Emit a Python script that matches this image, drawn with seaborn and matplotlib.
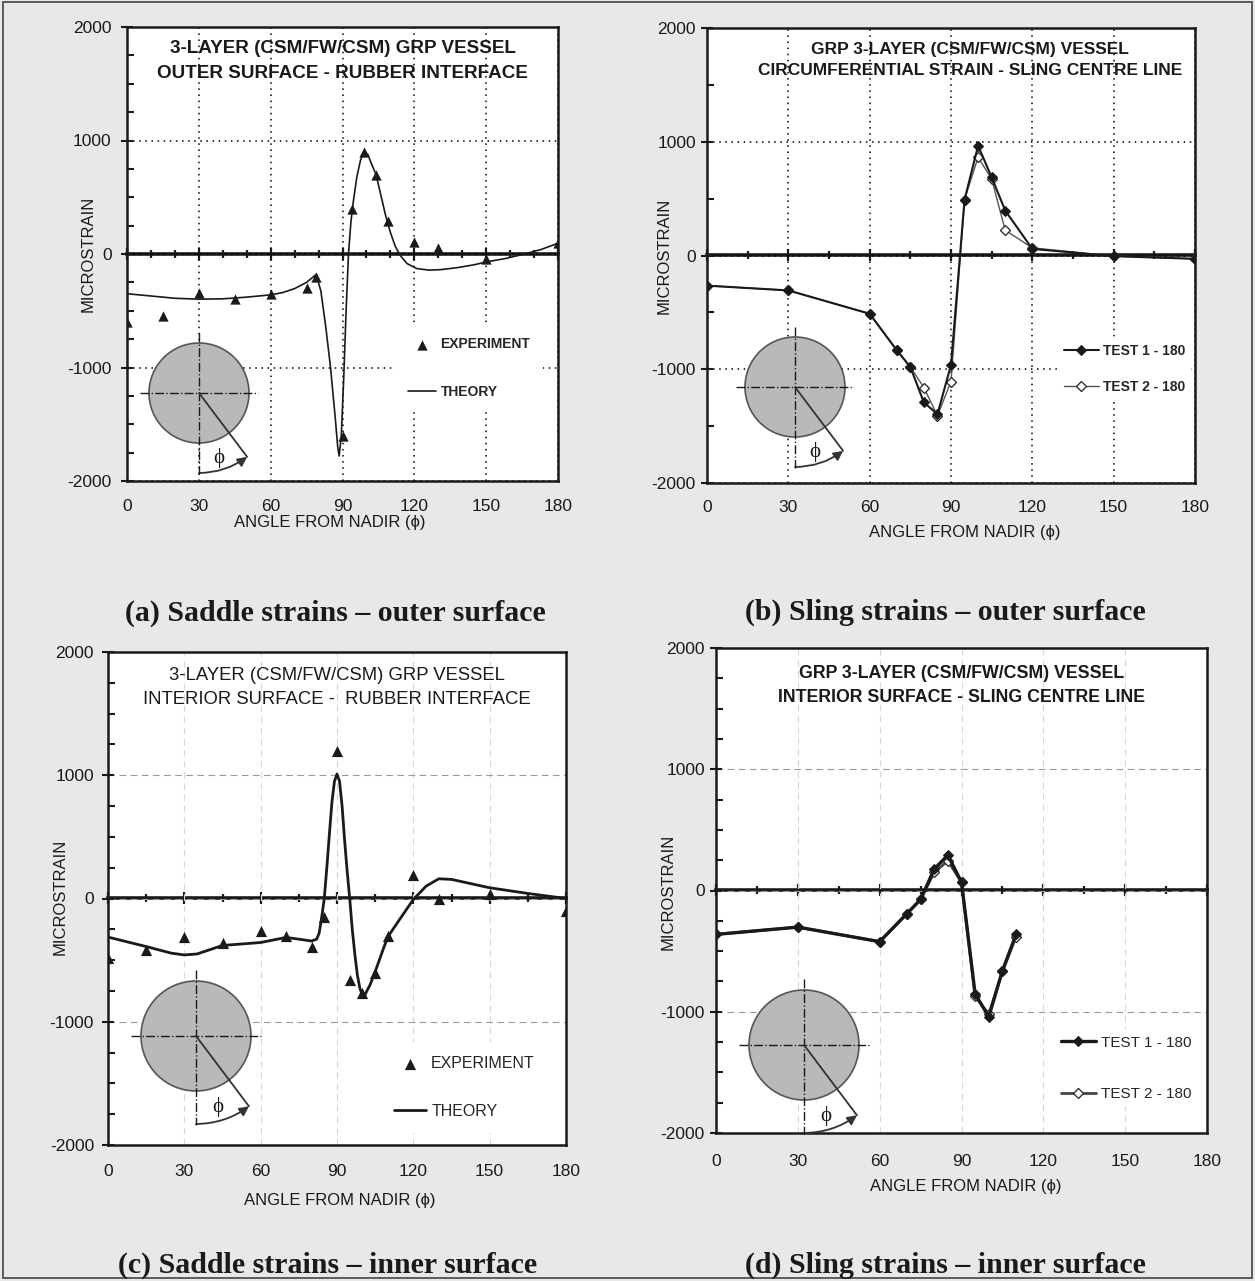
import matplotlib
matplotlib.use("Agg")
import matplotlib.pyplot as plt
import numpy as np
import pandas as pd
import seaborn as sns
from matplotlib.patches import Circle, FancyArrowPatch, Rectangle
from matplotlib.ticker import MultipleLocator

# ---- values ----
# (a) saddle strains - outer surface
a_exp_angle = [0, 15, 30, 45, 60, 75, 79, 90, 94, 99, 104, 109, 120, 130, 150, 180]
a_exp_strain = [-600, -550, -345, -400, -350, -300, -200, -1600, 400, 900, 700, 290, 110, 55, -45, 100]
a_th_angle = [0, 10, 20, 30, 40, 50, 60, 65, 70, 75, 79, 81, 83, 85, 87, 88, 88.6, 89.5, 90.5,
              91.5, 92.5, 93.5, 94.5, 96, 97.5, 99, 100.5, 102, 104, 106, 108, 110, 112, 114,
              117, 121, 126, 131, 138, 145, 150, 158, 166, 173, 180]
a_th_strain = [-350, -370, -390, -398, -395, -380, -360, -340, -305, -250, -180, -330, -640,
               -1000, -1450, -1700, -1780, -1600, -1100, -500, 0, 280, 460, 680, 825, 900, 880,
               800, 700, 520, 340, 190, 70, -10, -85, -128, -142, -138, -120, -95, -70, -40, 0,
               40, 95]

# (b) sling strains - outer surface
b_angle = [0, 30, 60, 70, 75, 80, 85, 90, 95, 100, 105, 110, 120, 150, 180]
b_test1 = [-265, -307, -512, -833, -980, -1292, -1395, -962, 491, 965, 687, 395, 58, -6, -29]
b_test2 = [-265, -307, -512, -833, -980, -1161, -1409, -1108, 491, 865, 672, 222, 67, -5, -30]

# (c) saddle strains - inner surface
c_exp_angle = [0, 15, 30, 45, 60, 70, 80, 85, 90, 95, 100, 105, 110, 120, 130, 150, 180]
c_exp_strain = [-480, -417, -316, -362, -262, -308, -390, -153, 1196, -662, -763, -608, -308,
                191, -8, 38, -103]
c_th_angle = [0, 15, 25, 30, 35, 45, 60, 70, 75, 80, 82, 83, 84, 85, 86, 87, 88, 89, 90, 91,
              92, 93, 94, 95, 96, 97, 98, 99, 100, 101, 103, 105, 108, 110, 115, 120, 125, 130,
              135, 150, 165, 180]
c_th_strain = [-313, -390, -444, -458, -450, -381, -357, -316, -330, -345, -330, -280, -150, 0,
               250, 520, 780, 950, 1010, 950, 750, 470, 220, 0, -250, -450, -620, -730, -785,
               -780, -700, -594, -420, -310, -158, -8, 100, 160, 155, 87, 41, 0]

# (d) sling strains - inner surface
d_angle = [0, 30, 60, 70, 75, 80, 85, 90, 95, 100, 105, 110]
d_test1 = [-362, -302, -422, -191, -74, 177, 292, 68, -853, -1041, -662, -362]
d_test2 = [-362, -302, -422, -191, -74, 150, 245, 68, -872, -1022, -668, -381]

INK = "#1a1a1a"

sns.set_theme(style="white")
plt.rcParams["font.family"] = ["Liberation Sans", "DejaVu Sans"]
plt.rcParams["axes.unicode_minus"] = False

W, H = 1255, 1281
fig = plt.figure(figsize=(W / 100, H / 100), dpi=100, facecolor="#e8e8e8")


def px_axes(left, top, right, bottom):
    return fig.add_axes([left / W, 1 - bottom / H, (right - left) / W, (bottom - top) / H])


def style_axes(ax, title, title_x, title_y, bold, tsize, minor_x, minor_y, dotted, xpad, ypad):
    ax.set_facecolor("white")
    ax.set_xlim(0, 180)
    ax.set_ylim(-2000, 2000)
    ax.set_xticks(range(0, 181, 30))
    ax.set_yticks(range(-2000, 2001, 1000))
    ax.yaxis.set_minor_locator(MultipleLocator(minor_y))
    ax.set_xlabel("")
    ax.set_ylabel("")
    ax.tick_params(axis="x", length=0, pad=xpad, labelsize=12.5, labelcolor=INK)
    ax.tick_params(axis="y", which="major", direction="inout", length=8, width=1.5,
                   left=True, pad=ypad, labelsize=12.5, labelcolor=INK, color=INK)
    ax.tick_params(axis="y", which="minor", direction="in", length=5, width=1.5,
                   left=True, color=INK)
    for s in ax.spines.values():
        s.set_color(INK)
        s.set_linewidth(1.8)
    if dotted:
        ax.grid(True, which="major", color="black", ls=(0, (1, 3)), lw=1.1)
    else:
        ax.grid(True, which="major", axis="y", color="#9a9a9a", ls=(0, (6, 4)), lw=0.8)
        ax.grid(True, which="major", axis="x", color="#d8d8d8", ls=(0, (6, 4)), lw=0.8)
    # x axis drawn through zero strain, with its tick marks
    zero = ax.secondary_xaxis(0.5)
    zero.set_xticks(range(0, 181, 30))
    zero.xaxis.set_minor_locator(MultipleLocator(minor_x))
    zero.tick_params(which="both", direction="inout", labeltop=False, labelbottom=False,
                     width=1.6, color=INK)
    zero.tick_params(which="major", length=8)
    zero.tick_params(which="minor", length=6)
    zero.spines["top"].set_linewidth(2.6)
    zero.spines["top"].set_color(INK)
    ax.text(title_x, title_y, title, transform=ax.transAxes, ha="center", va="center",
            fontsize=tsize, fontweight="bold" if bold else "normal",
            linespacing=1.55, color=INK)


def add_legend(ax, x, y, bold, size, spacing, handlelength, pad):
    handles, labels = ax.get_legend_handles_labels()
    ax.legend(handles, labels, loc="upper left", bbox_to_anchor=(x, y), frameon=True,
              fancybox=False, facecolor="white", edgecolor="none", framealpha=1,
              borderpad=pad, borderaxespad=0, labelspacing=spacing,
              handlelength=handlelength, handletextpad=0.3,
              prop={"size": size, "weight": "bold" if bold else "normal"})


def saddle_panel(ax, exp_x, exp_y, th_x, th_y, tri_size, line_w):
    exp = pd.DataFrame({"angle": exp_x, "strain": exp_y})
    th = pd.DataFrame({"angle": th_x, "strain": th_y})
    sns.scatterplot(data=exp, x="angle", y="strain", ax=ax, marker="^", s=tri_size,
                    color=INK, linewidth=0, zorder=4, label="EXPERIMENT")
    sns.lineplot(data=th, x="angle", y="strain", ax=ax, color=INK, lw=line_w,
                 errorbar=None, zorder=3, label="THEORY")


def sling_panel(ax, x, t1, t2, w1, w2, c2):
    df = pd.DataFrame({"angle": x, "t1": t1, "t2": t2})
    sns.lineplot(data=df, x="angle", y="t1", ax=ax, color=INK, lw=w1, marker="D",
                 markersize=5, markerfacecolor=INK, markeredgecolor=INK,
                 errorbar=None, zorder=4, label="TEST 1 - 180")
    sns.lineplot(data=df, x="angle", y="t2", ax=ax, color=c2, lw=w2, marker="D",
                 markersize=5, markerfacecolor="white", markeredgecolor="#333333",
                 markeredgewidth=1.0, errorbar=None, zorder=3, label="TEST 2 - 180")


# (a)
ax_a = px_axes(127, 27, 558, 481)
saddle_panel(ax_a, a_exp_angle, a_exp_strain, a_th_angle, a_th_strain, 55, 1.2)
style_axes(ax_a, "3-LAYER (CSM/FW/CSM) GRP VESSEL\nOUTER SURFACE - RUBBER INTERFACE",
           0.5, 0.925, True, 13.6, 10, 250, True, 13, 7)
add_legend(ax_a, 0.624, 0.344, True, 10, 2.4, 2.0, 0.9)

# (b)
ax_b = px_axes(707, 28, 1195, 483)
sling_panel(ax_b, b_angle, b_test1, b_test2, 1.5, 1.0, "#555555")
style_axes(ax_b, "GRP 3-LAYER (CSM/FW/CSM) VESSEL\nCIRCUMFERENTIAL STRAIN - SLING CENTRE LINE",
           0.539, 0.93, True, 12.5, 15, 500, True, 12, 4)
add_legend(ax_b, 0.72, 0.318, True, 10, 1.6, 2.5, 0.4)

# (c)
ax_c = px_axes(108, 652, 566, 1145)
saddle_panel(ax_c, c_exp_angle, c_exp_strain, c_th_angle, c_th_strain, 65, 2.0)
style_axes(ax_c, "3-LAYER (CSM/FW/CSM) GRP VESSEL\nINTERIOR SURFACE -  RUBBER INTERFACE",
           0.5, 0.928, False, 13.3, 15, 250, False, 14, 6)
add_legend(ax_c, 0.594, 0.209, False, 11.5, 2.05, 2.0, 0.9)

# (d)
ax_d = px_axes(716, 648, 1207, 1133)
sling_panel(ax_d, d_angle, d_test1, d_test2, 2.4, 2.0, "#444444")
style_axes(ax_d, "GRP 3-LAYER (CSM/FW/CSM) VESSEL\nINTERIOR SURFACE - SLING CENTRE LINE",
           0.5, 0.922, True, 12.8, 15, 250, False, 15, 4)
add_legend(ax_d, 0.69, 0.213, False, 11, 2.45, 2.3, 0.4)

# axis titles and captions
for x, y in [(88, 254), (664, 256), (60, 897), (668, 892)]:
    fig.text(x / W, 1 - y / H, "MICROSTRAIN", rotation=90, ha="center", va="center",
             fontsize=12, color=INK)
for x, y in [(330, 523), (965, 533), (340, 1200), (966, 1186)]:
    fig.text(x / W, 1 - y / H, "ANGLE FROM NADIR (ϕ)", ha="center", va="center",
             fontsize=12, color=INK)
captions = [("(a) Saddle strains – outer surface", 335, 613),
            ("(b) Sling strains – outer surface", 945, 612),
            ("(c) Saddle strains – inner surface", 328, 1265),
            ("(d) Sling strains – inner surface", 945, 1265)]
for text, x, y in captions:
    fig.text(x / W, 1 - y / H, text, ha="center", va="center", fontsize=21.5,
             fontweight="bold", family=["Liberation Serif", "DejaVu Serif"], color=INK)

# cross-section sketches (pixel coordinates)
over = fig.add_axes([0, 0, 1, 1], zorder=10)
over.set_xlim(0, W)
over.set_ylim(H, 0)
over.axis("off")
over.patch.set_alpha(0)


def draw_section(cx, cy, r):
    over.add_patch(Circle((cx, cy), r, facecolor="#b9b9b9", edgecolor="#555555", lw=1.2))
    over.plot([cx - 1.18 * r, cx + 1.18 * r], [cy, cy], color=INK, lw=1.0, ls="-.")
    over.plot([cx, cx], [cy - 1.2 * r, cy + 1.62 * r], color=INK, lw=1.0, ls="-.")
    ang = np.deg2rad(37)
    L = 1.6 * r
    tip = (cx + L * np.sin(ang), cy + L * np.cos(ang))
    over.plot([cx, tip[0]], [cy, tip[1]], color="#333333", lw=1.3)
    over.add_patch(FancyArrowPatch((cx, cy + L), tip, connectionstyle="arc3,rad=0.16",
                                   arrowstyle="-|>", mutation_scale=14, color="#333333",
                                   lw=1.3, shrinkA=0, shrinkB=0))
    mid = np.deg2rad(17)
    over.text(cx + 1.35 * r * np.sin(mid), cy + 1.35 * r * np.cos(mid), "ϕ",
              ha="center", va="center", fontsize=15, color=INK,
              family=["Liberation Serif", "DejaVu Serif"])


for cx, cy, r in [(199, 393, 50), (795, 387, 50), (196, 1036, 55), (804, 1045, 55)]:
    draw_section(cx, cy, r)

fig.patches.append(Rectangle((3 / W, 3 / H), 1 - 6 / W, 1 - 5 / H, transform=fig.transFigure,
                             fill=False, edgecolor="#444444", lw=1.2))

fig.savefig("out.png", dpi=100, facecolor=fig.get_facecolor())
